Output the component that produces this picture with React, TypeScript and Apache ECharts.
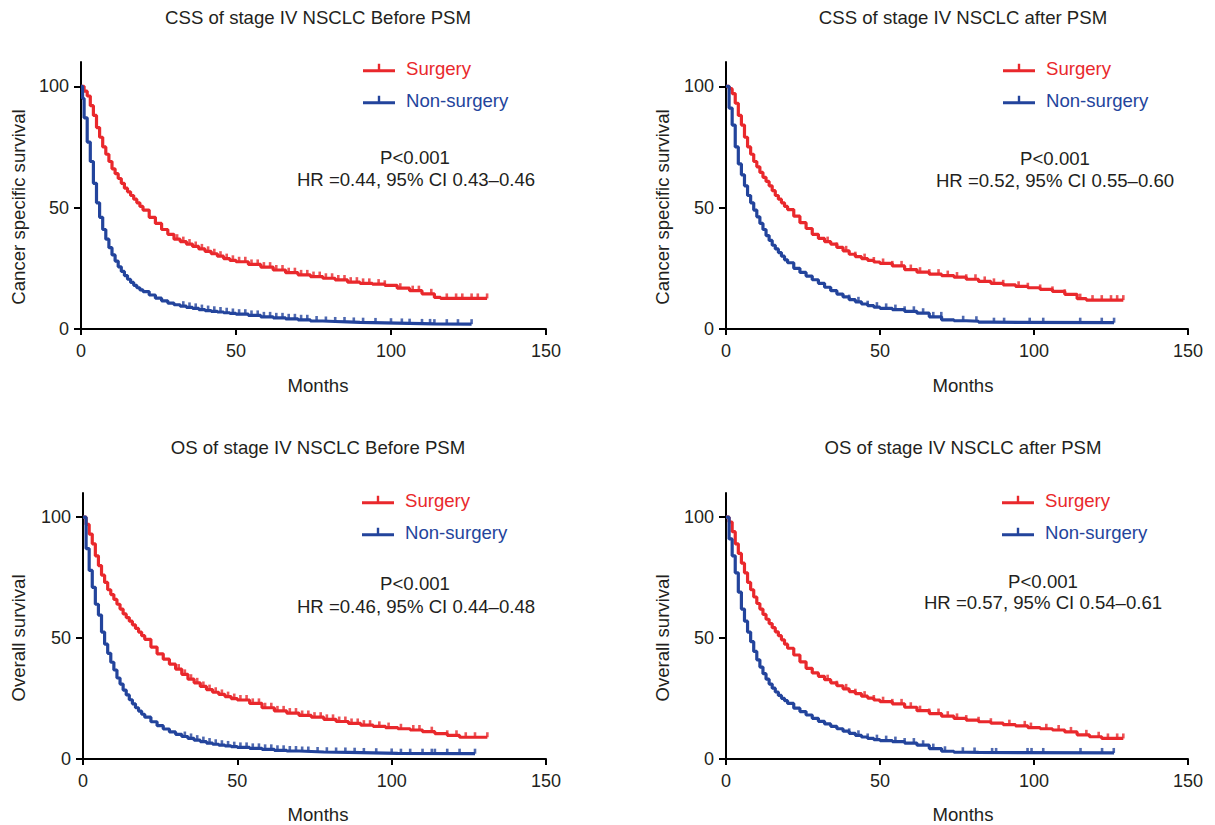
import React, { useEffect, useRef } from "react";
import * as echarts from "echarts";

const RED = "#E9282C";
const BLUE = "#23449C";
const TEXT = "#231F20";
const FONT = "'Liberation Sans', Arial, Helvetica, sans-serif";

const titles = [
  "CSS of stage IV NSCLC Before PSM",
  "CSS of stage IV NSCLC after PSM",
  "OS of stage IV NSCLC Before PSM",
  "OS of stage IV NSCLC after PSM",
];
const yNames = [
  "Cancer specific survival",
  "Cancer specific survival",
  "Overall survival",
  "Overall survival",
];
const xName = "Months";
const pTexts = ["P<0.001", "P<0.001", "P<0.001", "P<0.001"];
const hrTexts = [
  "HR =0.44, 95% CI 0.43–0.46",
  "HR =0.52, 95% CI 0.55–0.60",
  "HR =0.46, 95% CI 0.44–0.48",
  "HR =0.57, 95% CI 0.54–0.61",
];
const legendNames = ["Surgery", "Non-surgery"];
const yTickValues = [0, 50, 100];

// Kaplan–Meier curves: [month, survival %]
const cssBeforeSurgery: [number, number][] = [
  [0, 100], [1, 98], [2, 96], [3, 92], [4, 88], [5, 83], [6, 79], [7, 75], [8, 72], [9, 69],
  [10, 66], [11, 64], [12, 62], [13, 60], [14, 58], [15, 56.5], [16, 55], [17, 53.5], [18, 52],
  [19, 50.5], [20, 49], [22, 46], [24, 43.5], [26, 41], [28, 39], [30, 37], [32, 36], [34, 35],
  [36, 34], [38, 33], [40, 32], [42, 31], [44, 30], [46, 29], [48, 28.3], [50, 27.7], [54, 26.6],
  [58, 25.5], [62, 24.3], [66, 23.2], [70, 22.3], [74, 21.6], [78, 20.9], [82, 20.2], [86, 19.3],
  [90, 18.8], [94, 18.5], [98, 18], [102, 16.8], [106, 15.8], [110, 14.5], [114, 13], [116, 12.6],
  [131, 12.6],
];
const cssBeforeNonSurgery: [number, number][] = [
  [0, 100], [0.5, 95], [1, 87], [2, 77], [3, 69], [4, 60], [5, 52], [6, 46], [7, 41], [8, 37],
  [9, 33.5], [10, 30.5], [11, 28], [12, 25.6], [13, 23.7], [14, 22], [15, 20.5], [16, 19.2],
  [17, 18], [18, 17], [19, 16.1], [20, 15.4], [22, 14], [24, 12.7], [26, 11.6], [28, 10.7],
  [30, 10], [32, 9.4], [34, 8.9], [36, 8.5], [38, 8], [40, 7.6], [42, 7.3], [44, 7], [46, 6.7],
  [48, 6.4], [50, 6.1], [54, 5.6], [58, 5], [62, 4.6], [66, 4.2], [70, 3.8], [74, 3.3], [78, 3.1],
  [82, 2.9], [86, 2.7], [90, 2.6], [94, 2.5], [98, 2.4], [102, 2.3], [106, 2.2], [110, 2.1],
  [114, 2], [126, 2],
];
const cssAfterSurgery: [number, number][] = [
  [0, 100], [1, 99], [2, 97], [3, 93], [4, 88], [5, 84], [6, 79], [7, 75], [8, 72], [9, 69],
  [10, 66.8], [11, 64.5], [12, 62.5], [13, 60.8], [14, 59], [15, 57], [16, 55], [17, 53.5],
  [18, 52], [19, 50.5], [20, 49.2], [22, 46.5], [24, 43.8], [26, 41.4], [28, 39], [30, 37.3],
  [32, 36], [34, 35], [36, 33.6], [38, 32.2], [40, 30.8], [42, 29.8], [44, 29], [46, 28.3],
  [48, 27.6], [50, 27], [54, 26], [58, 24.5], [62, 23.4], [66, 22.6], [70, 22], [74, 21.4],
  [78, 20.5], [82, 19.6], [86, 18.8], [90, 18.2], [94, 17.6], [98, 17], [102, 16.3], [106, 15.5],
  [110, 14.3], [114, 12.5], [117, 11.9], [129, 11.9],
];
const cssAfterNonSurgery: [number, number][] = [
  [0, 100], [1, 91], [2, 84], [3, 75], [4, 68], [5, 63.5], [6, 59], [7, 55], [8, 52], [9, 49],
  [10, 46.2], [11, 43.5], [12, 41], [13, 38.5], [14, 36.5], [15, 34.5], [16, 33], [17, 31.5],
  [18, 30], [19, 28.5], [20, 27.3], [22, 25], [24, 23.3], [26, 21.8], [28, 20.3], [30, 18.8],
  [32, 17.2], [34, 15.8], [36, 14.4], [38, 13.2], [40, 12.1], [42, 11.2], [44, 10.3], [46, 9.6],
  [48, 9], [50, 8.5], [54, 8], [58, 7.3], [62, 6.5], [66, 5], [70, 3.8], [74, 3.4], [78, 3.2],
  [82, 2.8], [86, 2.6], [126, 2.6],
];
const osBeforeSurgery: [number, number][] = [
  [0, 100], [1, 97], [2, 93], [3, 89], [4, 84], [5, 80], [6, 76], [7, 73], [8, 70], [9, 68],
  [10, 66], [11, 64], [12, 62], [13, 60], [14, 58.5], [15, 57], [16, 55.5], [17, 54], [18, 52.5],
  [19, 51], [20, 49.5], [22, 46.3], [24, 43.5], [26, 41.3], [28, 39.2], [30, 37.2], [32, 35],
  [34, 33], [36, 31.5], [38, 30], [40, 28.7], [42, 27.6], [44, 26.7], [46, 25.8], [48, 25],
  [50, 24.4], [54, 23], [58, 21.2], [62, 19.9], [66, 19], [70, 18], [74, 17.3], [78, 16.4],
  [82, 15.5], [86, 14.7], [90, 14], [94, 13.5], [98, 13], [102, 12.5], [106, 12], [110, 11.3],
  [114, 10.5], [118, 9.8], [122, 9], [131, 9],
];
const osBeforeNonSurgery: [number, number][] = [
  [0, 100], [1, 87], [2, 78], [3, 71], [4, 64], [5, 59.5], [6, 52.5], [7, 47.5], [8, 43.7],
  [9, 40], [10, 36.8], [11, 33.5], [12, 31], [13, 28.5], [14, 26.5], [15, 24.5], [16, 22.8],
  [17, 21.2], [18, 19.8], [19, 18.5], [20, 17.3], [22, 15.4], [24, 13.8], [26, 12.4], [28, 11.2],
  [30, 10.2], [32, 9.3], [34, 8.5], [36, 7.8], [38, 7.2], [40, 6.6], [42, 6.1], [44, 5.7],
  [46, 5.4], [48, 5.1], [50, 4.8], [54, 4.4], [58, 4], [62, 3.6], [66, 3.3], [70, 3.1], [74, 2.9],
  [78, 2.8], [82, 2.7], [86, 2.6], [90, 2.5], [94, 2.4], [98, 2.3], [102, 2.2], [127, 2.2],
];
const osAfterSurgery: [number, number][] = [
  [0, 100], [1, 98], [2, 94], [3, 89], [4, 85], [5, 81], [6, 77], [7, 73], [8, 70], [9, 67],
  [10, 64.3], [11, 62], [12, 59.8], [13, 57.8], [14, 56], [15, 54.3], [16, 52.6], [17, 51],
  [18, 49.3], [19, 47.5], [20, 45.8], [22, 43], [24, 40.2], [26, 37.5], [28, 35.6], [30, 34.2],
  [32, 32.8], [34, 31.5], [36, 30.3], [38, 29], [40, 27.9], [42, 27], [44, 26], [46, 25.2],
  [48, 24.4], [50, 23.7], [54, 22.8], [58, 21.4], [62, 20], [66, 18.8], [70, 17.7], [74, 16.8],
  [78, 16.1], [82, 15.4], [86, 14.8], [90, 14.2], [94, 13.7], [98, 13], [102, 12.5], [106, 12],
  [110, 11.2], [114, 10], [118, 9.2], [122, 8.5], [129, 8.5],
];
const osAfterNonSurgery: [number, number][] = [
  [0, 100], [1, 91], [2, 84], [3, 77], [4, 69], [5, 62], [6, 57], [7, 52.5], [8, 48.5], [9, 44.5],
  [10, 41], [11, 38], [12, 35.3], [13, 33], [14, 31], [15, 29.3], [16, 27.7], [17, 26.3],
  [18, 25.1], [19, 24.1], [20, 23], [22, 21], [24, 19.6], [26, 18.2], [28, 16.8], [30, 15.6],
  [32, 14.5], [34, 13.5], [36, 12.5], [38, 11.5], [40, 10.6], [42, 9.8], [44, 9.1], [46, 8.5],
  [48, 8], [50, 7.6], [54, 7.2], [58, 6.6], [62, 5.7], [66, 4.3], [70, 3.2], [74, 2.8], [78, 2.7],
  [82, 2.5], [126, 2.5],
];

// censoring marks (months)
const cssBeforeSurgeryCens = [
  31, 33, 35, 37, 39, 41, 43, 45, 47, 49, 51, 53, 55, 57, 59, 61, 63, 65, 67, 69, 71, 73, 75, 77,
  79, 81, 83, 85, 87, 89, 91, 93, 96, 98, 103, 107, 109, 113, 118, 121, 123, 126, 128, 131,
];
const cssBeforeNonSurgeryCens = [
  33, 35, 37, 39, 41, 43, 45, 47, 49, 51, 53, 55, 57, 59, 61, 63, 65, 67, 69, 71, 73, 76, 79, 82,
  85, 88, 91, 95, 100, 103.5, 106, 110, 112.6, 114, 118, 121.6, 126,
];
const cssAfterSurgeryCens = [
  33, 36, 39, 42, 45, 48, 51, 54, 57, 60, 63, 66, 69, 72, 75, 78, 81, 84, 87, 90, 95, 98, 102,
  106, 110, 115, 119, 122, 125, 127, 129,
];
const cssAfterNonSurgeryCens = [
  40, 43, 46, 49, 52, 55, 58, 61, 64, 67.3, 69.9, 77, 81.3, 87, 90.3, 98.6, 103, 115, 122, 126,
];
const osBeforeSurgeryCens = [
  31, 33, 35, 37, 39, 41, 43, 45, 47, 49, 51, 53, 55, 57, 59, 61, 63, 65, 67, 69, 71, 73, 75, 77,
  79, 81, 83, 85, 87, 89, 91, 93, 96, 99, 103, 107, 109, 113, 118, 121, 124, 127, 131,
];
const osBeforeNonSurgeryCens = [
  33, 35, 37, 39, 41, 43, 45, 47, 49, 51, 53, 55, 57, 59, 61, 63, 65, 67, 69, 71, 73, 76, 79, 82,
  85, 88, 91, 95, 100, 103, 106, 110, 113, 114, 118, 122, 127,
];
const osAfterSurgeryCens = [
  33, 36, 39, 42, 45, 48, 51, 54, 57, 60, 63, 66, 69, 72, 75, 78, 82, 86, 92, 97, 99, 104, 108,
  112, 117, 121, 124, 127, 129,
];
const osAfterNonSurgeryCens = [
  40, 43, 46, 49, 52, 55, 58, 61, 64, 67.3, 71.1, 76.9, 80.7, 86.4, 87.7, 97.9, 99.2, 103, 115.1,
  122.1, 125.9,
];

const panels = [
  { s: cssBeforeSurgery, n: cssBeforeNonSurgery, sc: cssBeforeSurgeryCens, nc: cssBeforeNonSurgeryCens },
  { s: cssAfterSurgery, n: cssAfterNonSurgery, sc: cssAfterSurgeryCens, nc: cssAfterNonSurgeryCens },
  { s: osBeforeSurgery, n: osBeforeNonSurgery, sc: osBeforeSurgeryCens, nc: osBeforeNonSurgeryCens },
  { s: osAfterSurgery, n: osAfterNonSurgery, sc: osAfterSurgeryCens, nc: osAfterNonSurgeryCens },
];

// layout
const grids = [
  { left: 81, top: 62, width: 465, height: 267 },
  { left: 726, top: 62, width: 462, height: 267 },
  { left: 83, top: 493, width: 463, height: 266 },
  { left: 726, top: 493, width: 462, height: 266 },
];
const titlePos = [[318, 17], [963, 17], [318, 447], [963, 447]];
const pPos = [[415, 157], [1055, 158], [415, 583], [1043, 581]];
const hrPos = [[416, 179], [1055, 180], [416, 606], [1043, 602]];
const legendPos = [[363, 58], [1003, 58], [362, 490], [1002, 490]];
const xNamePos = [[318, 385], [963, 385], [318, 814], [963, 814]];
const yNamePos = [[18.5, 207], [662, 207], [18.5, 638], [662, 638]];

function stepValue(curve: [number, number][], t: number) {
  let v = curve[0][1];
  for (const [x, y] of curve) {
    if (x <= t) v = y;
    else break;
  }
  return v;
}

const LEGEND_ICON = "path://M0,5.5H32V8.5H0Z M14.8,0H17.2V6H14.8Z";
const FS = 18.6;

export default function App() {
  const ref = useRef<HTMLDivElement>(null);
  useEffect(() => {
    if (!ref.current) return;
    const chart = echarts.init(ref.current, undefined, { renderer: "svg" });
    const axisCommon = {
      axisLine: { show: true, onZero: false, lineStyle: { color: "#000", width: 2 } },
      splitLine: { show: false },
    };
    const xAxis = grids.map((_, i) => ({
      ...axisCommon,
      type: "value",
      gridIndex: i,
      min: 0,
      max: 150,
      interval: 50,
      axisTick: { show: true, length: 6, lineStyle: { color: "#000", width: 2 } },
      axisLabel: { fontSize: 18, color: TEXT, fontFamily: FONT, margin: 13 },
    }));
    const yAxis = grids.map((_, i) => ({
      ...axisCommon,
      type: "value",
      gridIndex: i,
      min: 0,
      max: 110,
      axisTick: { show: true, length: 7, customValues: yTickValues, lineStyle: { color: "#000", width: 2 } },
      axisLabel: { fontSize: 18, color: TEXT, fontFamily: FONT, margin: 12, customValues: yTickValues },
    }));
    const series: any[] = [];
    panels.forEach((p, i) => {
      const lines = [
        { name: legendNames[0], data: p.s, color: RED, cens: p.sc },
        { name: legendNames[1], data: p.n, color: BLUE, cens: p.nc },
      ];
      lines.forEach((l) => {
        series.push({
          type: "line",
          name: l.name,
          xAxisIndex: i,
          yAxisIndex: i,
          data: l.data,
          step: "end",
          showSymbol: false,
          symbol: "none",
          lineStyle: { color: l.color, width: 3.2 },
          itemStyle: { color: l.color },
          silent: true,
        });
      });
      lines.forEach((l) => {
        series.push({
          type: "scatter",
          name: l.name + " censored",
          xAxisIndex: i,
          yAxisIndex: i,
          data: l.cens.map((t) => [t, stepValue(l.data, t)]),
          symbol: "rect",
          symbolSize: [2.6, 5],
          symbolOffset: [0, -2.5],
          itemStyle: { color: l.color },
          silent: true,
        });
      });
    });
    const legend = legendPos.map(([x, y]) => ({
      orient: "vertical",
      left: x,
      top: y,
      padding: 0,
      itemGap: 12,
      itemWidth: 32,
      itemHeight: 9,
      icon: LEGEND_ICON,
      selectedMode: false,
      textStyle: { fontSize: FS, fontFamily: FONT, lineHeight: 20, padding: [0, 0, 0, 6] },
      data: [
        { name: legendNames[0], textStyle: { color: RED }, itemStyle: { color: RED } },
        { name: legendNames[1], textStyle: { color: BLUE }, itemStyle: { color: BLUE } },
      ],
    }));
    const textEl = (text: string, x: number, y: number, rotation = 0) => ({
      type: "text",
      x,
      y,
      rotation,
      silent: true,
      style: { text, fill: TEXT, fontSize: FS, fontFamily: FONT, align: "center", verticalAlign: "middle" },
    });
    const graphic: any[] = [];
    titles.forEach((t, i) => graphic.push(textEl(t, titlePos[i][0], titlePos[i][1])));
    pTexts.forEach((t, i) => graphic.push(textEl(t, pPos[i][0], pPos[i][1])));
    hrTexts.forEach((t, i) => graphic.push(textEl(t, hrPos[i][0], hrPos[i][1])));
    xNamePos.forEach(([x, y]) => graphic.push(textEl(xName, x, y)));
    yNames.forEach((t, i) => graphic.push(textEl(t, yNamePos[i][0], yNamePos[i][1], Math.PI / 2)));

    chart.setOption({
      animation: false,
      backgroundColor: "#fff",
      textStyle: { fontFamily: FONT },
      grid: grids,
      xAxis,
      yAxis,
      legend,
      series,
      graphic,
    });
    return () => chart.dispose();
  }, []);
  return (
    <div
      ref={ref}
      style={{ position: "absolute", left: 0, top: 0, width: 1215, height: 825 }}
    />
  );
}
